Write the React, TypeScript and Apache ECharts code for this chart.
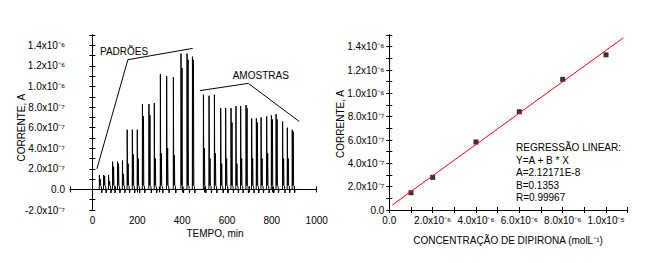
import React, { useEffect, useRef } from 'react';
import * as echarts from 'echarts';

// ---------- Left chart: flow-injection amperogram ----------
// peak times (min), main peak heights and secondary shoulder heights (x1e-7 A)
const peakTimes = [31, 50, 72, 90, 112, 134, 155, 178, 200, 223, 252, 276, 303, 331, 361, 395, 422, 446,
  495, 520, 544, 572, 594, 618, 640, 661, 685, 710, 731, 752, 777, 798, 819, 848, 869, 891];
const peakHeights = [1.4, 1.4, 1.4, 2.7, 2.7, 2.8, 5.8, 5.8, 5.8, 8.3, 8.3, 8.4, 11.2, 11.0, 10.9, 13.2, 13.2, 12.9,
  9.2, 9.1, 9.2, 7.9, 7.9, 7.9, 8.1, 8.1, 8.2, 6.9, 6.9, 7.0, 7.1, 7.2, 7.3, 6.6, 6.0, 5.8];
const secondHeights = [1.0, 1.3, 0.8, 2.2, 2.5, 1.5, 2.5, 3.4, 3.0, 7.1, 7.2, 3.0, 3.5, 4.0, 3.3, 11.8, 12.6, 12.6,
  4.0, 3.0, 3.5, 2.5, 3.0, 6.5, 2.5, 3.0, 7.9, 3.0, 6.5, 3.0, 3.5, 6.8, 6.8, 3.0, 3.0, 5.6];
const traceStart = 0;
const traceEnd = 926;
const padroesPointer = [[20, 2.0e-7], [158, 1.26e-6], [447, 1.37e-6]];
const amostrasPointer = [[480, 9.6e-7], [695, 1.03e-6], [922, 6.6e-7]];

const leftXTickValues = [0, 200, 400, 600, 800, 1000];
const leftXTickLabels = ['0', '200', '400', '600', '800', '1000'];
const leftYTickValues = [-2e-7, 0, 2e-7, 4e-7, 6e-7, 8e-7, 1.0e-6, 1.2e-6, 1.4e-6];
const leftYTickLabels = ['-2.0x10⁻⁷', '0.0', '2.0x10⁻⁷', '4.0x10⁻⁷', '6.0x10⁻⁷', '8.0x10⁻⁷', '1.0x10⁻⁶', '1.2x10⁻⁶', '1.4x10⁻⁶'];

// ---------- Right chart: calibration ----------
const concentration = [1e-6, 2e-6, 4e-6, 6e-6, 8e-6, 1e-5];
const currentMeasured = [1.48e-7, 2.8e-7, 5.83e-7, 8.42e-7, 1.12e-6, 1.33e-6];
const fitLine = [[1.4e-7, 4.3e-8], [1.08e-5, 1.476e-6]];
const regressionText = ['REGRESSÃO LINEAR:', 'Y=A + B * X', 'A=2.12171E-8', 'B=0.1353', 'R=0.99967'];

const rightXTickValues = [0, 2e-6, 4e-6, 6e-6, 8e-6, 1e-5];
const rightXTickLabels = ['0.0', '2.0x10⁻⁶', '4.0x10⁻⁶', '6.0x10⁻⁶', '8.0x10⁻⁶', '1.0x10⁻⁵'];
const rightYTickValues = [0, 2e-7, 4e-7, 6e-7, 8e-7, 1.0e-6, 1.2e-6, 1.4e-6];
const rightYTickLabels = ['0.0', '2.0x10⁻⁷', '4.0x10⁻⁷', '6.0x10⁻⁷', '8.0x10⁻⁷', '1.0x10⁻⁶', '1.2x10⁻⁶', '1.4x10⁻⁶'];

const FONT = '"Liberation Sans", Arial, sans-serif';

function labeler(values: number[], labels: string[], tol: number) {
  return (v: number) => {
    for (let i = 0; i < values.length; i++) {
      if (Math.abs(v - values[i]) < tol) return labels[i];
    }
    return '';
  };
}

function buildTrace(): number[][] {
  const pts: number[][] = [[traceStart, 0]];
  peakTimes.forEach((t, i) => {
    const h = peakHeights[i] * 1e-7;
    const s = secondHeights[i] * 1e-7;
    pts.push(
      [t - 0.6, 0],
      [t, h],
      [t + 1.6, 0.4e-7],
      [t + 4.5, s],
      [t + 6, 0.4e-7],
      [t + 9, 0.25e-7],
      [t + 10.5, -0.35e-7],
      [t + 13, 0]
    );
  });
  pts.push([traceEnd, 0]);
  return pts;
}

const axisLine = { show: true, lineStyle: { color: '#000', width: 1 } };
const axisTick = { show: true, length: 3, lineStyle: { color: '#000', width: 1 } };
const labelBase = { color: '#000', fontSize: 10, fontFamily: FONT };

function txt(x: number, y: number, text: string, align: string, extra: any = {}) {
  return {
    type: 'text',
    x,
    y,
    silent: true,
    ...extra,
    style: {
      text,
      fill: '#000',
      fontSize: 10,
      fontFamily: FONT,
      align,
      textAlign: align,
      verticalAlign: 'middle',
      textVerticalAlign: 'middle',
    },
  };
}

export default function App() {
  const ref = useRef<HTMLDivElement>(null);

  useEffect(() => {
    document.body.style.margin = '0';
    if (!ref.current) return;
    const chart = echarts.init(ref.current, undefined, { renderer: 'svg' });

    const mirrorX = (gridIndex: number, min: number, max: number, interval: number) => ({
      type: 'value', gridIndex, position: 'top', min, max, interval,
      axisLine, axisTick, axisLabel: { show: false }, splitLine: { show: false },
    });
    const mirrorY = (gridIndex: number, min: number, max: number, interval: number) => ({
      type: 'value', gridIndex, position: 'right', min, max, interval,
      axisLine, axisTick, axisLabel: { show: false }, splitLine: { show: false },
    });

    const option: any = {
      animation: false,
      backgroundColor: '#fff',
      grid: [
        { left: 70, top: 35, width: 246.7, height: 175 },
        { left: 389.3, top: 35, width: 238.4, height: 175 },
      ],
      xAxis: [
        {
          type: 'value', gridIndex: 0, min: -100, max: 1000, interval: 100,
          axisLine, axisTick, splitLine: { show: false },
          axisLabel: { ...labelBase, margin: 5, formatter: labeler(leftXTickValues, leftXTickLabels, 1e-6) },
        },
        mirrorX(0, -100, 1000, 100),
        {
          type: 'value', gridIndex: 1, min: 0, max: 1.1e-5, interval: 1e-6,
          axisLine, axisTick, splitLine: { show: false },
          axisLabel: { ...labelBase, margin: 5, formatter: labeler(rightXTickValues, rightXTickLabels, 1e-9) },
        },
        mirrorX(1, 0, 1.1e-5, 1e-6),
      ],
      yAxis: [
        {
          type: 'value', gridIndex: 0, min: -2e-7, max: 1.5e-6, interval: 1e-7,
          axisLine, axisTick, splitLine: { show: false },
          axisLabel: { ...labelBase, margin: 5, formatter: labeler(leftYTickValues, leftYTickLabels, 1e-10) },
        },
        mirrorY(0, -2e-7, 1.5e-6, 1e-7),
        {
          type: 'value', gridIndex: 1, min: 0, max: 1.5e-6, interval: 1e-7,
          axisLine, axisTick, splitLine: { show: false },
          axisLabel: { ...labelBase, margin: 5, formatter: labeler(rightYTickValues, rightYTickLabels, 1e-10) },
        },
        mirrorY(1, 0, 1.5e-6, 1e-7),
      ],
      series: [
        {
          type: 'line', xAxisIndex: 0, yAxisIndex: 0, data: buildTrace(),
          showSymbol: false, symbol: 'none', silent: true,
          lineStyle: { color: '#000', width: 1 },
        },
        {
          type: 'line', xAxisIndex: 0, yAxisIndex: 0, data: padroesPointer,
          showSymbol: false, symbol: 'none', silent: true,
          lineStyle: { color: '#000', width: 1 },
        },
        {
          type: 'line', xAxisIndex: 0, yAxisIndex: 0, data: amostrasPointer,
          showSymbol: false, symbol: 'none', silent: true,
          lineStyle: { color: '#000', width: 1 },
        },
        {
          type: 'line', xAxisIndex: 2, yAxisIndex: 2, data: fitLine,
          showSymbol: false, symbol: 'none', silent: true,
          lineStyle: { color: '#ff0000', width: 1 },
        },
        {
          type: 'scatter', xAxisIndex: 2, yAxisIndex: 2,
          data: concentration.map((c, i) => [c, currentMeasured[i]]),
          symbol: 'rect', symbolSize: 5, itemStyle: { color: '#000' }, silent: true,
        },
      ],
      graphic: [
        txt(100, 51, 'PADRÕES', 'left'),
        txt(232.7, 75.7, 'AMOSTRAS', 'left'),
        txt(215, 233, 'TEMPO, min', 'center'),
        txt(21.7, 127.7, 'CORRENTE, A', 'center', { rotation: Math.PI / 2 }),
        txt(340, 124, 'CORRENTE, A', 'center', { rotation: Math.PI / 2 }),
        txt(508, 240, 'CONCENTRAÇÃO DE DIPIRONA (molL⁻¹)', 'center'),
        ...regressionText.map((t, i) => txt(516, 147.7 + 12.5 * i, t, 'left')),
      ],
    };

    chart.setOption(option);
    return () => chart.dispose();
  }, []);

  return <div ref={ref} style={{ width: 663, height: 263 }} />;
}
